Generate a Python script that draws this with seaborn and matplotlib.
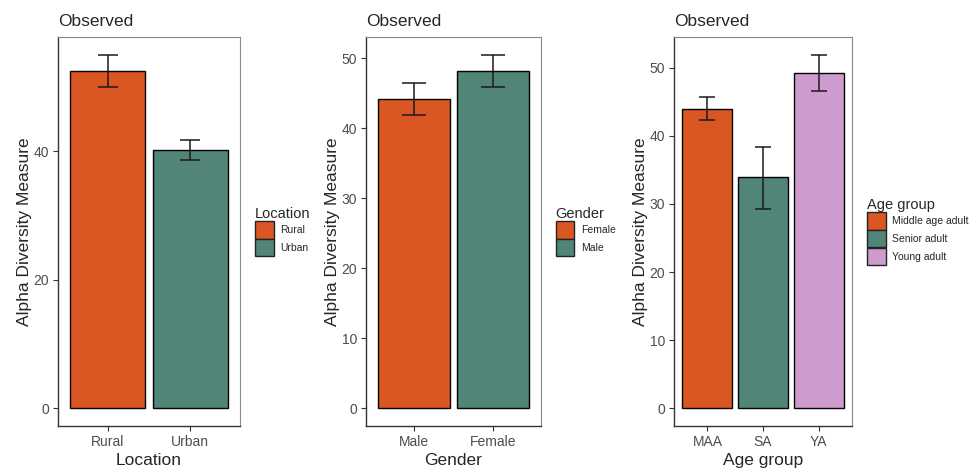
import numpy as np
import matplotlib
matplotlib.use("Agg")
import matplotlib.pyplot as plt
from matplotlib.patches import Patch
import seaborn as sns

# Panel 1: Location
loc_cats = ["Rural", "Urban"]
loc_mean = [52.4, 40.1]
loc_low = [49.9, 38.6]
loc_high = [55.0, 41.7]
loc_legend = ["Rural", "Urban"]

# Panel 2: Gender
gen_cats = ["Male", "Female"]
gen_mean = [44.2, 48.2]
gen_low = [41.9, 45.9]
gen_high = [46.4, 50.5]
gen_legend = ["Female", "Male"]

# Panel 3: Age group
age_cats = ["MAA", "SA", "YA"]
age_mean = [43.9, 33.9, 49.2]
age_low = [42.3, 29.2, 46.6]
age_high = [45.7, 38.4, 51.9]
age_legend = ["Middle age adult", "Senior adult", "Young adult"]

palette = ["#DA5724", "#508578", "#CD9BCD"]

sns.set_style("white")
plt.rcParams["font.family"] = ["Liberation Sans", "DejaVu Sans"]

fig = plt.figure(figsize=(9.8, 4.74), dpi=100)
W, H = 980, 474


def add_panel(left, right, cats, mean, low, high, legend_labels, legend_title,
              xlabel, yticks, capsize):
    ax = fig.add_axes([left / W, (H - 426) / H, (right - left) / W, 389 / H])
    cols = palette[:len(cats)]
    sns.barplot(x=cats, y=mean, hue=cats, palette=cols, edgecolor="black",
                linewidth=1.0, width=0.9, legend=False, saturation=1, ax=ax)
    pos = np.arange(len(cats))
    mean_a = np.array(mean)
    yerr = [mean_a - np.array(low), np.array(high) - mean_a]
    ax.errorbar(pos, mean, yerr=yerr, fmt="none", ecolor="#1a1a1a",
                elinewidth=1.1, capsize=capsize, capthick=1.1)
    top = max(high)
    ax.set_ylim(-0.05 * top, top * 1.05)
    ax.set_xlim(-0.6, len(cats) - 0.4)
    ax.set_yticks(yticks)
    ax.tick_params(axis="both", length=3.5, width=0.8, color="#333333",
                   labelsize=10, labelcolor="#4D4D4D", direction="out",
                   left=True, bottom=True, pad=3)
    for side in ["top", "right"]:
        ax.spines[side].set_color("#8a8a8a")
        ax.spines[side].set_linewidth(0.8)
    for side in ["left", "bottom"]:
        ax.spines[side].set_color("#333333")
        ax.spines[side].set_linewidth(1.0)
    ax.set_xlabel(xlabel, fontsize=12.5, labelpad=3)
    ax.set_ylabel("Alpha Diversity Measure", fontsize=12.5, labelpad=1)
    ax.set_title("Observed", loc="left", fontsize=12.5, pad=8)
    handles = [Patch(facecolor=c, edgecolor="#222222", linewidth=1.0)
               for c in palette[:len(legend_labels)]]
    leg = ax.legend(handles, legend_labels, title=legend_title, loc="center left",
                    bbox_to_anchor=(1.06, 0.5), frameon=False, fontsize=7.5,
                    title_fontsize=10.5, handlelength=1.8, handleheight=2.2,
                    labelspacing=0.05, handletextpad=0.6, borderaxespad=0)
    leg._legend_box.align = "left"
    return ax


add_panel(58, 240, loc_cats, loc_mean, loc_low, loc_high, loc_legend,
          "Location", "Location", [0, 20, 40], 7.5)
add_panel(366, 541, gen_cats, gen_mean, gen_low, gen_high, gen_legend,
          "Gender", "Gender", [0, 10, 20, 30, 40, 50], 8.5)
add_panel(674, 852, age_cats, age_mean, age_low, age_high, age_legend,
          "Age group", "Age group", [0, 10, 20, 30, 40, 50], 6)

fig.savefig("out.png", dpi=100)
